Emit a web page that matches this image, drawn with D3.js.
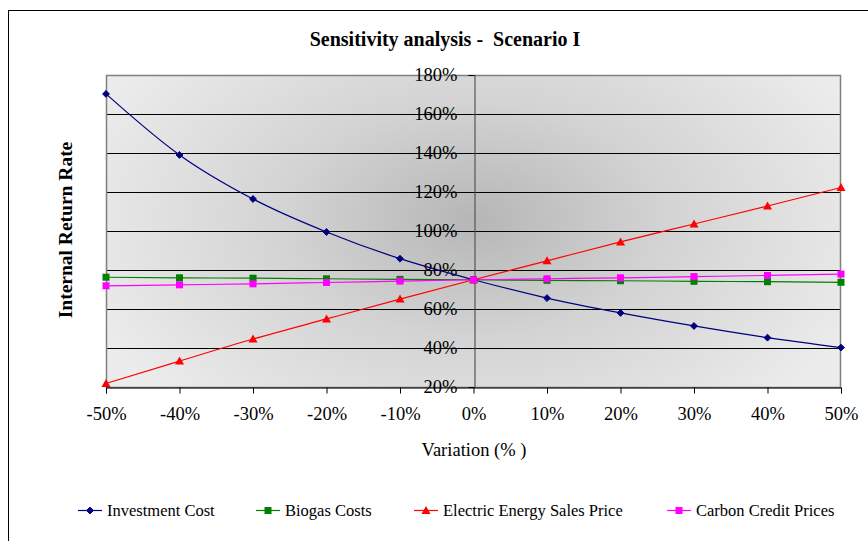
<!DOCTYPE html>
<html><head><meta charset="utf-8">
<script src="https://cdn.jsdelivr.net/npm/d3@7"></script>
<style>body{margin:0;background:#fff}svg{display:block}text{white-space:pre}</style>
</head><body>
<svg id="c" width="868" height="541"></svg>
<script>
const variations = [-50,-40,-30,-20,-10,0,10,20,30,40,50];
const investmentCost = [170.3,139,116.4,99.5,85.8,75,65.6,58,51.3,45.3,40.2];
const biogasCosts = [76.3,76.0,75.8,75.5,75.2,75,74.7,74.5,74.2,74.0,73.7];
const electricPrice = [21.8,33.3,44.6,54.9,65.1,75,84.7,94.4,103.6,112.8,122.3];
const carbonPrices = [71.9,72.4,72.9,73.6,74.3,75,75.5,76.0,76.6,77.2,77.9];
const yTicks = [20,40,60,80,100,120,140,160,180];
const seriesNames = ["Investment Cost","Biogas Costs","Electric Energy Sales Price","Carbon Credit Prices"];

const series = [
  {name:seriesNames[0], values:investmentCost, color:"#000080", marker:"diamond"},
  {name:seriesNames[1], values:biogasCosts, color:"#008000", marker:"square"},
  {name:seriesNames[2], values:electricPrice, color:"#ff0000", marker:"triangle"},
  {name:seriesNames[3], values:carbonPrices, color:"#ff00ff", marker:"square"}
];

const svg = d3.select("#c");
const font = "'Liberation Serif','Times New Roman',serif";
const L=106, R=841, T=75, B=387;
const x = d3.scaleLinear().domain([-50,50]).range([L,R]);
const y = d3.scaleLinear().domain([20,180]).range([B,T]);

svg.append("rect").attr("x",8.5).attr("y",10.5).attr("width",880).attr("height",560)
  .attr("fill","#fff").attr("stroke","#000").attr("stroke-width",1);

const defs = svg.append("defs");
const g = defs.append("radialGradient").attr("id","bg")
  .attr("gradientUnits","userSpaceOnUse").attr("cx",474).attr("cy",220).attr("r",420)
  .attr("gradientTransform","translate(474,220) scale(1,0.62) translate(-474,-220)");
g.append("stop").attr("offset","0%").attr("stop-color","#b6b6b6");
g.append("stop").attr("offset","45%").attr("stop-color","#d3d3d3");
g.append("stop").attr("offset","100%").attr("stop-color","#ececec");
svg.append("rect").attr("x",L).attr("y",T).attr("width",R-L).attr("height",B-T).attr("fill","url(#bg)");

svg.append("g").selectAll("line").data(yTicks.filter(d=>d>20&&d<180)).join("line")
  .attr("x1",L).attr("x2",R).attr("y1",d=>Math.round(y(d))+0.5).attr("y2",d=>Math.round(y(d))+0.5)
  .attr("stroke","#000").attr("stroke-width",1);
svg.append("rect").attr("x",L+0.5).attr("y",T+0.5).attr("width",R-L-1).attr("height",B-T)
  .attr("fill","none").attr("stroke","#808080").attr("stroke-width",1.5);

const xAxis = svg.append("g").attr("transform",`translate(0,${B+0.5})`)
  .call(d3.axisBottom(x).tickValues(variations).tickSize(6).tickPadding(13).tickFormat(d=>d+"%"));
xAxis.select(".domain").attr("stroke","#000");
xAxis.selectAll("line").attr("stroke","#000");
xAxis.selectAll("text").attr("font-family",font).attr("font-size",18.5).attr("fill","#000");

const yAxis = svg.append("g").attr("transform",`translate(${Math.round(x(0))+0.5},0)`)
  .call(d3.axisLeft(y).tickValues(yTicks).tickSize(6).tickPadding(11).tickFormat(d=>d+"%"));
yAxis.select(".domain").attr("stroke","#555").attr("stroke-width",1.2);
yAxis.selectAll("line").attr("stroke","#000");
yAxis.selectAll("text").attr("font-family",font).attr("font-size",18.5).attr("fill","#000");

function marker(sel, type, color){
  if(type==="diamond"){
    sel.append("path").attr("d",d3.symbol(d3.symbolDiamond2,30)()).attr("fill",color).attr("stroke",color);
  } else if(type==="square"){
    sel.append("rect").attr("x",-3.5).attr("y",-3.5).attr("width",7).attr("height",7).attr("fill",color);
  } else {
    sel.append("path").attr("d","M0,-4.5L4.5,3.5L-4.5,3.5Z").attr("fill",color);
  }
}

const line = d3.line().x((d,i)=>x(variations[i])).y(d=>y(d)).curve(d3.curveMonotoneX);
series.forEach(s=>{
  svg.append("path").attr("d",line(s.values)).attr("fill","none").attr("stroke",s.color).attr("stroke-width",1.2);
});
series.forEach(s=>{
  s.values.forEach((v,i)=>{
    const gm = svg.append("g").attr("transform",`translate(${x(variations[i])},${y(v)})`);
    marker(gm,s.marker,s.color);
  });
});

svg.append("text").attr("x",445).attr("y",46).attr("text-anchor","middle")
  .attr("font-family",font).attr("font-weight","bold").attr("font-size",20).text("Sensitivity analysis -  Scenario I");
svg.append("text").attr("x",474).attr("y",456).attr("text-anchor","middle")
  .attr("font-family",font).attr("font-size",18.5).text("Variation (% )");
svg.append("text").attr("transform","translate(72,230) rotate(-90)").attr("text-anchor","middle")
  .attr("font-family",font).attr("font-weight","bold").attr("font-size",19.5).text("Internal Return Rate");

const legendX = [78,256,414,667];
const lg = svg.append("g");
series.forEach((s,i)=>{
  const gx = legendX[i];
  lg.append("line").attr("x1",gx).attr("x2",gx+24).attr("y1",510.5).attr("y2",510.5).attr("stroke",s.color).attr("stroke-width",1.2);
  const gm = lg.append("g").attr("transform",`translate(${gx+12},510.5)`);
  marker(gm,s.marker,s.color);
  lg.append("text").attr("x",gx+29).attr("y",516).attr("font-family",font).attr("font-size",16.5).text(s.name);
});
</script>
</body></html>
